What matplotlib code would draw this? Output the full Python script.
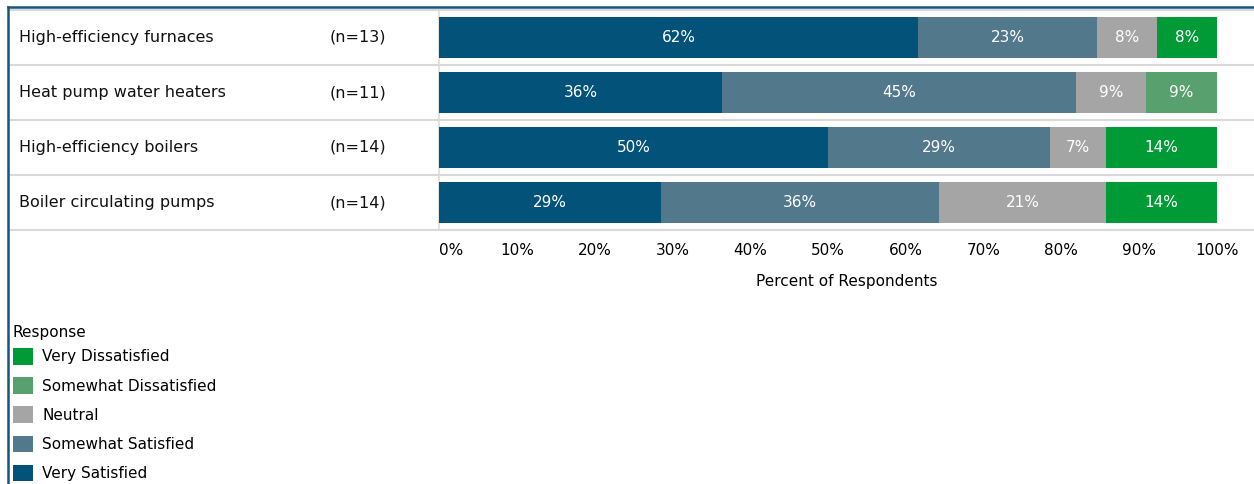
import matplotlib.pyplot as plt
from matplotlib.patches import Patch
from matplotlib.lines import Line2D
import matplotlib.transforms as mtransforms

# survey data: counts of respondents per response level
categories = ["High-efficiency furnaces", "Heat pump water heaters",
              "High-efficiency boilers", "Boiler circulating pumps"]
n_resp = [13, 11, 14, 14]
responses = ["Very Satisfied", "Somewhat Satisfied", "Neutral",
             "Somewhat Dissatisfied", "Very Dissatisfied"]
counts = {
    "Very Satisfied":        [8, 4, 7, 4],
    "Somewhat Satisfied":    [3, 5, 4, 5],
    "Neutral":               [1, 1, 1, 3],
    "Somewhat Dissatisfied": [0, 1, 0, 0],
    "Very Dissatisfied":     [1, 0, 2, 2],
}
colors = {
    "Very Satisfied": "#03527a",
    "Somewhat Satisfied": "#52788c",
    "Neutral": "#a5a5a5",
    "Somewhat Dissatisfied": "#58a16f",
    "Very Dissatisfied": "#009a36",
}
ticks = list(range(0, 101, 10))

W, H = 1254, 484
fig = plt.figure(figsize=(W / 100, H / 100), dpi=100)
ax = fig.add_axes([10 / W, 1 - 230 / H, 1 - 10 / W, 220 / H])

# stacked bars
ypos = list(range(len(categories)))
left = [0.0] * len(categories)
for r in responses:
    pct = [100 * c / n for c, n in zip(counts[r], n_resp)]
    ax.barh(ypos, pct, left=left, height=0.75, color=colors[r], edgecolor="none", zorder=3)
    for y, l, p in zip(ypos, left, pct):
        if p > 0:
            ax.text(l + p / 2, y, f"{p:.0f}%", ha="center", va="center",
                    color="white", fontsize=11, zorder=4)
    left = [l + p for l, p in zip(left, pct)]

ax.set_ylim(3.5, -0.5)
ax.set_xlim(-(439 - 10) / 7.78, (1254 - 439) / 7.78)

# row separators and left edge of bar area
for b in [-0.5, 0.5, 1.5, 2.5, 3.5]:
    ax.axhline(b, color="#d9d9d9", lw=1.5, clip_on=False, zorder=1)
ax.axvline(0, color="#dddddd", lw=1.2, zorder=1)

# row labels
trans = mtransforms.blended_transform_factory(fig.transFigure, ax.transData)
for y, cat, n in zip(ypos, categories, n_resp):
    ax.text(19 / W, y, cat, transform=trans, ha="left", va="center", fontsize=11.5, color="#111111")
    ax.text(330 / W, y, f"(n={n})", transform=trans, ha="left", va="center", fontsize=11.5, color="#111111")

for s in ax.spines.values():
    s.set_visible(False)
ax.set_yticks([])
ax.set_xticks(ticks)
ax.set_xticklabels([f"{t}%" for t in ticks], fontsize=11)
ax.get_xticklabels()[0].set_ha("left")
ax.tick_params(axis="x", length=0, pad=9)
ax.set_xlabel("Percent of Respondents", fontsize=11)
ax.xaxis.set_label_coords((847 - 10) / 1244, -0.2)

# legend, listed from dissatisfied to satisfied
fig.text(12 / W, 1 - 332 / H, "Response", ha="left", va="center", fontsize=11)
handles = [Patch(facecolor=colors[r], edgecolor="none") for r in reversed(responses)]
fig.legend(handles, list(reversed(responses)), loc="upper left",
           bbox_to_anchor=(13 / W, 1 - 348 / H), frameon=False, fontsize=11,
           handlelength=1.3, handleheight=1.3,
           handletextpad=0.6, labelspacing=0.82, borderpad=0, borderaxespad=0)

# dark frame lines on top and left
fig.add_artist(Line2D([8 / W, 1], [1 - 7 / H, 1 - 7 / H], color="#17557d", lw=1.8))
fig.add_artist(Line2D([8 / W, 8 / W], [0, 1 - 7 / H], color="#17557d", lw=1.8))

fig.savefig("out.png", dpi=100)
